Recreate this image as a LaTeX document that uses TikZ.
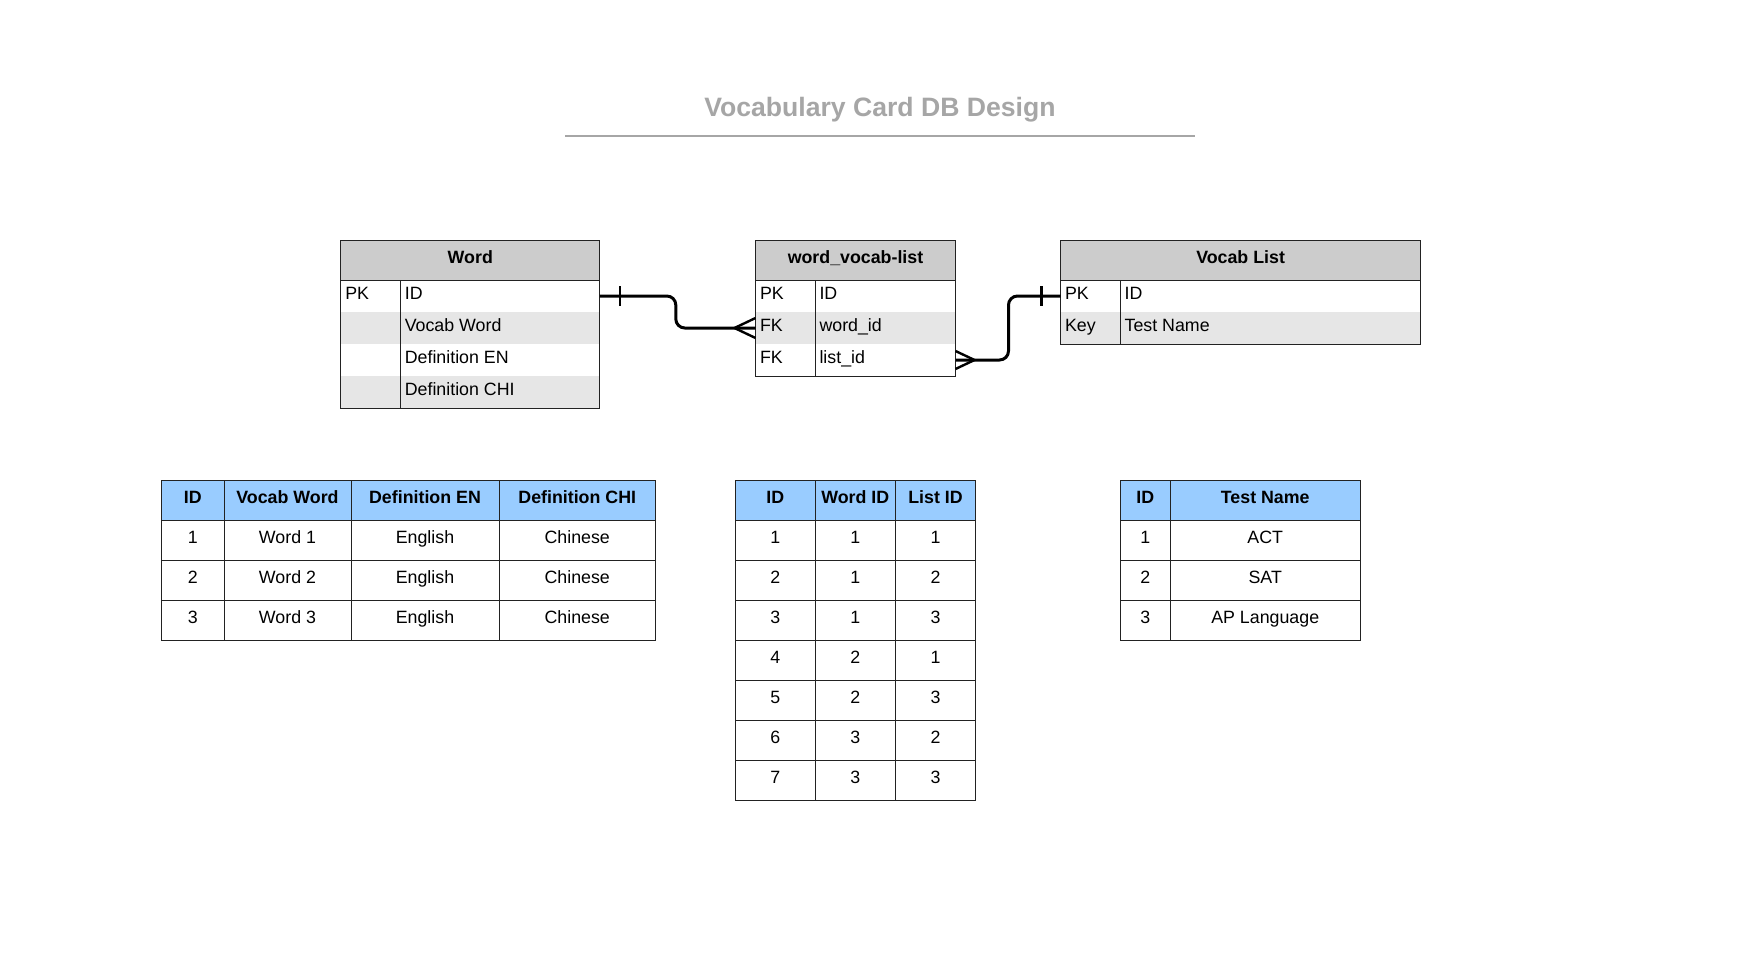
\documentclass[tikz,border=0pt]{standalone}
\usepackage{fontspec}
\setmainfont{Liberation Sans}
\definecolor{hdrgray}{HTML}{CCCCCC}
\definecolor{rowgray}{HTML}{E6E6E6}
\definecolor{hdrblue}{HTML}{99CCFF}
\definecolor{titlegray}{HTML}{A6A6A6}
\definecolor{edge}{HTML}{222222}
\begin{document}
\begin{tikzpicture}[x=1pt,y=-1pt,
  base/.style={inner sep=0pt, outer sep=0pt, font=\fontsize{17.8}{21}\selectfont, text height=12.6pt, text depth=5pt},
  erhead/.style={base, anchor=north west, fill=hdrgray, font=\fontsize{17.8}{21}\selectfont\bfseries, minimum height=40pt},
  errow/.style={base, anchor=north west, minimum height=32pt},
  ertext/.style={base, anchor=west},
  cell/.style={base, anchor=north west, draw=edge, line width=1pt, minimum height=40pt},
  hcell/.style={cell, fill=hdrblue, font=\fontsize{17.8}{21}\selectfont\bfseries},
  border/.style={draw=edge, line width=1pt},
  rel/.style={line width=3pt, black, rounded corners=9pt},
  relmark/.style={line width=2.4pt, black}
]
\useasboundingbox (0,0) rectangle (1758,960);
\fill[white] (0,0) rectangle (1758,960);

% Title
\node[inner sep=0pt, anchor=base, text=titlegray, font=\fontsize{26.6}{30}\selectfont\bfseries] (title) at (880,117) {Vocabulary Card DB Design};
\draw[titlegray, line width=2pt] (565,135.7) -- (1195,135.7);

% ---------- ER: Word ----------
\node[erhead, minimum width=259pt] (wordH) at (340.8,240) {Word};
\node[errow, minimum width=259pt, fill=white]   (w1) at (340.8,280) {};
\node[errow, minimum width=259pt, fill=rowgray] (w2) at (340.8,312) {};
\node[errow, minimum width=259pt, fill=white]   (w3) at (340.8,344) {};
\node[errow, minimum width=259pt, fill=rowgray] (w4) at (340.8,376) {};
\node[ertext, xshift=4.5pt] (w1k) at (w1.west) {PK};
\node[ertext, xshift=64pt] (w1f) at (w1.west) {ID};
\node[ertext, xshift=64pt] (w2f) at (w2.west) {Vocab Word};
\node[ertext, xshift=64pt] (w3f) at (w3.west) {Definition EN};
\node[ertext, xshift=64pt] (w4f) at (w4.west) {Definition CHI};
\draw[border] (wordH.north west) rectangle (w4.south east);
\draw[border] (wordH.south west) -- (wordH.south east);
\draw[border] ([xshift=59.5pt]w1.north west) -- ([xshift=59.5pt]w4.south west);

% ---------- ER: word_vocab-list ----------
\node[erhead, minimum width=200pt] (wvH) at (755.5,240) {word\_vocab-list};
\node[errow, minimum width=200pt, fill=white]   (wv1) at (755.5,280) {};
\node[errow, minimum width=200pt, fill=rowgray] (wv2) at (755.5,312) {};
\node[errow, minimum width=200pt, fill=white]   (wv3) at (755.5,344) {};
\node[ertext, xshift=4.5pt] (wv1k) at (wv1.west) {PK};
\node[ertext, xshift=64pt] (wv1f) at (wv1.west) {ID};
\node[ertext, xshift=4.5pt] (wv2k) at (wv2.west) {FK};
\node[ertext, xshift=64pt] (wv2f) at (wv2.west) {word\_id};
\node[ertext, xshift=4.5pt] (wv3k) at (wv3.west) {FK};
\node[ertext, xshift=64pt] (wv3f) at (wv3.west) {list\_id};
\draw[border] (wvH.north west) rectangle (wv3.south east);
\draw[border] (wvH.south west) -- (wvH.south east);
\draw[border] ([xshift=59.5pt]wv1.north west) -- ([xshift=59.5pt]wv3.south west);

% ---------- ER: Vocab List ----------
\node[erhead, minimum width=360pt] (vlH) at (1060.6,240) {Vocab List};
\node[errow, minimum width=360pt, fill=white]   (vl1) at (1060.6,280) {};
\node[errow, minimum width=360pt, fill=rowgray] (vl2) at (1060.6,312) {};
\node[ertext, xshift=4.5pt] (vl1k) at (vl1.west) {PK};
\node[ertext, xshift=64pt] (vl1f) at (vl1.west) {ID};
\node[ertext, xshift=4.5pt] (vl2k) at (vl2.west) {Key};
\node[ertext, xshift=64pt] (vl2f) at (vl2.west) {Test Name};
\draw[border] (vlH.north west) rectangle (vl2.south east);
\draw[border] (vlH.south west) -- (vlH.south east);
\draw[border] ([xshift=59.5pt]vl1.north west) -- ([xshift=59.5pt]vl2.south west);

% ---------- Relationships ----------
\draw[rel] (w1.east) -- ++(76,0) |- (wv2.west);
\draw[relmark] ([xshift=20pt,yshift=10pt]w1.east) -- ([xshift=20pt,yshift=-10pt]w1.east);
\draw[relmark] ([yshift=10pt]wv2.west) -- ([xshift=-21pt]wv2.west) -- ([yshift=-10pt]wv2.west);

\draw[rel] (wv3.east) -- ++(53,0) |- (vl1.west);
\draw[relmark] ([yshift=9pt]wv3.east) -- ([xshift=19pt]wv3.east) -- ([yshift=-9pt]wv3.east);
\draw[relmark] ([xshift=-19pt,yshift=10pt]vl1.west) -- ([xshift=-19pt,yshift=-10pt]vl1.west);

% ---------- Table 1: words ----------
\node[hcell, minimum width=62.5pt] (t1h1) at (161.5,480) {ID};
\node[hcell, minimum width=127pt]  (t1h2) at (224,480) {Vocab Word};
\node[hcell, minimum width=148pt]  (t1h3) at (351,480) {Definition EN};
\node[hcell, minimum width=156.5pt] (t1h4) at (499,480) {Definition CHI};
\foreach \i in {1,2,3}{
  \node[cell, minimum width=62.5pt]  (t1r\i c1) at (161.5,{480+40*\i}) {\i};
  \node[cell, minimum width=127pt]   (t1r\i c2) at (224,{480+40*\i}) {Word \i};
  \node[cell, minimum width=148pt]   (t1r\i c3) at (351,{480+40*\i}) {English};
  \node[cell, minimum width=156.5pt] (t1r\i c4) at (499,{480+40*\i}) {Chinese};
}

% ---------- Table 2: word_vocab-list ----------
\node[hcell, minimum width=79.5pt] (t2h1) at (735.5,480) {ID};
\node[hcell, minimum width=80.5pt] (t2h2) at (815,480) {Word ID};
\node[hcell, minimum width=80pt]   (t2h3) at (895.5,480) {List ID};
\foreach \a/\b/\c [count=\i] in {1/1/1,2/1/2,3/1/3,4/2/1,5/2/3,6/3/2,7/3/3}{
  \node[cell, minimum width=79.5pt] (t2r\i c1) at (735.5,{480+40*\i}) {\a};
  \node[cell, minimum width=80.5pt] (t2r\i c2) at (815,{480+40*\i}) {\b};
  \node[cell, minimum width=80pt]   (t2r\i c3) at (895.5,{480+40*\i}) {\c};
}

% ---------- Table 3: vocab lists ----------
\node[hcell, minimum width=50.5pt]  (t3h1) at (1120,480) {ID};
\node[hcell, minimum width=189.5pt] (t3h2) at (1170.5,480) {Test Name};
\foreach \a/\b [count=\i] in {1/ACT,2/SAT,3/AP Language}{
  \node[cell, minimum width=50.5pt]  (t3r\i c1) at (1120,{480+40*\i}) {\a};
  \node[cell, minimum width=189.5pt] (t3r\i c2) at (1170.5,{480+40*\i}) {\b};
}
\end{tikzpicture}
\end{document}
